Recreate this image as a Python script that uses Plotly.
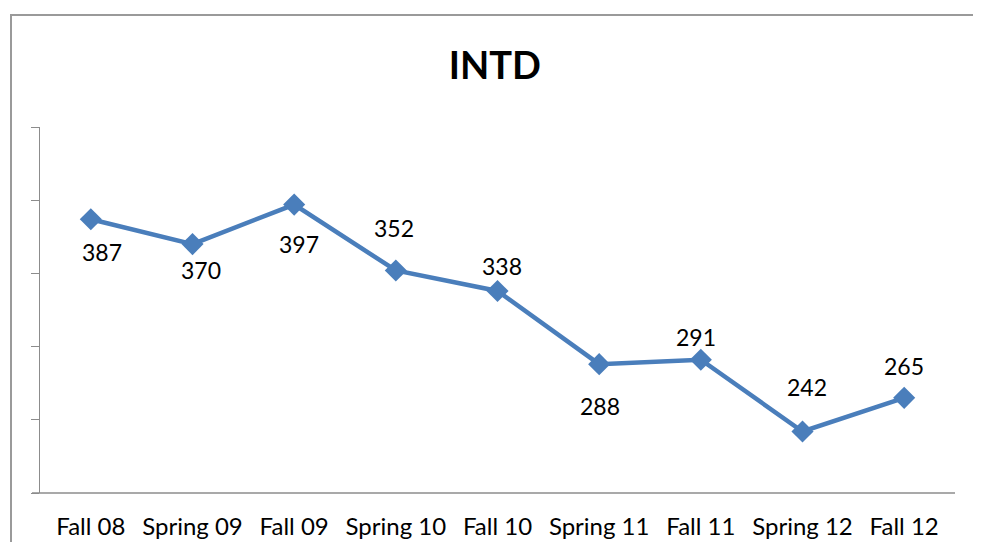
import plotly.graph_objects as go

categories = ["Fall 08", "Spring 09", "Fall 09", "Spring 10", "Fall 10",
              "Spring 11", "Fall 11", "Spring 12", "Fall 12"]
values = [387, 370, 397, 352, 338, 288, 291, 242, 265]
y_ticks = [200, 250, 300, 350, 400, 450]

# label placement (pixel offsets), styling only
label_dx = [11, 8, 5, -2, 4, 1, -5, 4, 0]
label_dy = [-33, -26, -39, 42, 25, -42, 23, 45, 32]

FONT = "Lato, 'Liberation Sans', sans-serif"
LINE = "#4a7ebb"

fig = go.Figure()
fig.add_trace(go.Scatter(
    x=categories, y=values, mode="lines+markers",
    line=dict(color=LINE, width=4.5),
    marker=dict(symbol="diamond", size=17, color=LINE),
    hoverinfo="x+y", showlegend=False,
))

for c, v, dx, dy in zip(categories, values, label_dx, label_dy):
    fig.add_annotation(x=c, y=v, text=str(v), showarrow=False,
                       xshift=dx, yshift=dy,
                       font=dict(family=FONT, size=23, color="black"))

# page body has an 8px default margin; compensate
OFF = 8
W, H = 981 - OFF, 550 - 2 * OFF
L, T = 40 - OFF, 127 - OFF
R = W - (955 - OFF)
B = H - (493 - OFF)
pw, ph = W - L - R, H - T - B

def px_x(x):  # window pixel x -> paper
    return (x - OFF - L) / pw

def px_y(y):  # window pixel y -> paper
    return (H - B - (y - OFF)) / ph

# outer chart frame
fig.add_shape(type="rect", xref="paper", yref="paper",
              x0=px_x(11), x1=px_x(987), y0=px_y(580), y1=px_y(15),
              line=dict(color="#9a9a9a", width=2), fillcolor="rgba(0,0,0,0)",
              layer="below")
# x-axis baseline extension to the left
fig.add_shape(type="line", xref="paper", yref="paper",
              x0=px_x(32), x1=1, y0=0, y1=0,
              line=dict(color="#8c8c8c", width=1.3))

fig.update_layout(
    width=W, height=H,
    margin=dict(l=L, r=R, t=T, b=B, autoexpand=False),
    paper_bgcolor="white", plot_bgcolor="white",
    title=dict(text="<b>INTD</b>", x=0.497, xref="paper", xanchor="center",
               y=1 - (66 - OFF) / H, yref="container", yanchor="middle",
               font=dict(family=FONT, size=38, color="black")),
    font=dict(family=FONT, size=24, color="black"),
)
fig.update_xaxes(type="category", range=[-0.5, len(categories) - 0.5],
                 automargin=False,
                 showgrid=False, zeroline=False, showline=False,
                 ticks="outside", ticklen=12, tickcolor="rgba(0,0,0,0)",
                 tickfont=dict(family=FONT, size=24, color="black"))
fig.update_yaxes(range=[200, 450], tickvals=y_ticks, showticklabels=False,
                 automargin=False,
                 showgrid=False, zeroline=False,
                 showline=True, linecolor="#8c8c8c", linewidth=1.3,
                 ticks="outside", ticklen=8, tickcolor="#8c8c8c", tickwidth=1.3)

fig.write_html("out.html")
